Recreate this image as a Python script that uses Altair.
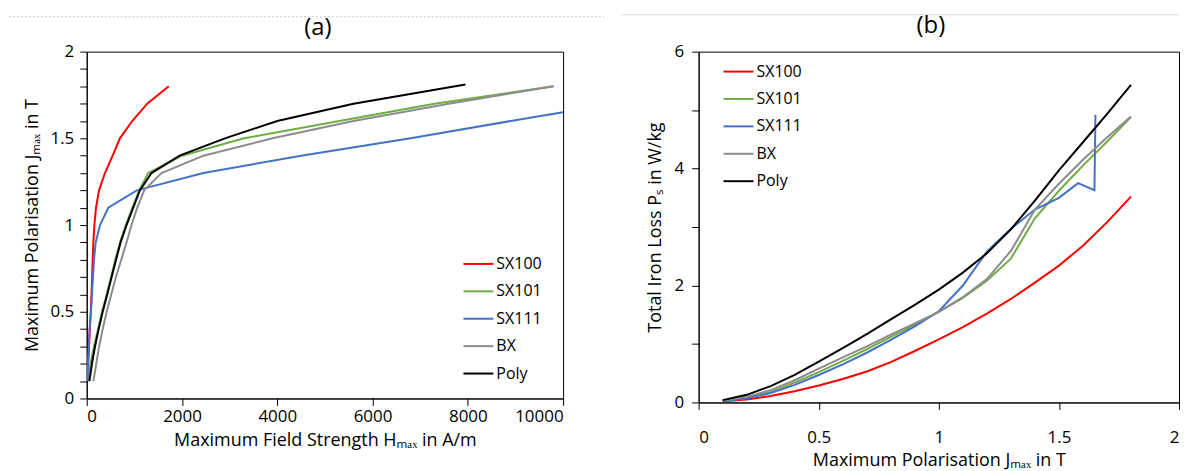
import altair as alt
import pandas as pd

FONT = "Open Sans"
series = ["SX100", "SX101", "SX111", "BX", "Poly"]
colors = ["#FF0000", "#70AD47", "#4472C4", "#8C8C8C", "#000000"]

# ---------- Panel (a): Maximum field strength H (A/m) vs polarisation J (T)
a_sx100_H = [10, 30, 49, 65, 84, 100, 113, 125, 139, 160, 195, 258, 383, 544, 697, 955, 1270, 1722]
a_sx100_J = [0.1, 0.2, 0.3, 0.4, 0.5, 0.6, 0.7, 0.8, 0.9, 1.0, 1.1, 1.2, 1.3, 1.4, 1.5, 1.6, 1.7, 1.8]

a_sx101_H = [35, 80, 150, 240, 320, 420, 510, 600, 700, 820, 960, 1100, 1290, 2000, 3300, 5300, 7300, 9800]
a_sx101_J = [0.1, 0.2, 0.3, 0.4, 0.5, 0.6, 0.7, 0.8, 0.9, 1.0, 1.1, 1.2, 1.3, 1.4, 1.5, 1.6, 1.7, 1.8]

a_sx111_H = [15, 30, 45, 60, 90, 110, 130, 153, 188, 279, 453, 1050, 2450, 4500, 6800, 8900, 10000]
a_sx111_J = [0.1, 0.2, 0.3, 0.4, 0.5, 0.6, 0.7, 0.8, 0.9, 1.0, 1.1, 1.2, 1.3, 1.4, 1.5, 1.6, 1.65]

a_bx_H = [140, 200, 260, 335, 418, 515, 613, 725, 836, 940, 1060, 1206, 1568, 2450, 3900, 5600, 7600, 9800]
a_bx_J = [0.1, 0.2, 0.3, 0.4, 0.5, 0.6, 0.7, 0.8, 0.9, 1.0, 1.1, 1.2, 1.3, 1.4, 1.5, 1.6, 1.7, 1.8]

a_poly_H = [56, 110, 174, 250, 335, 430, 523, 615, 711, 836, 976, 1115, 1359, 1950, 2900, 4000, 5600, 7950]
a_poly_J = [0.1, 0.2, 0.3, 0.4, 0.5, 0.6, 0.7, 0.8, 0.9, 1.0, 1.1, 1.2, 1.3, 1.4, 1.5, 1.6, 1.7, 1.81]

# ---------- Panel (b): polarisation J (T) vs total iron loss P (W/kg)
b_J = [0.1, 0.2, 0.3, 0.4, 0.5, 0.6, 0.7, 0.8, 0.9, 1.0, 1.1, 1.2, 1.3, 1.4, 1.5, 1.6, 1.7, 1.8]
b_sx100_P = [0.02, 0.05, 0.11, 0.19, 0.29, 0.40, 0.53, 0.69, 0.88, 1.08, 1.29, 1.52, 1.77, 2.05, 2.34, 2.68, 3.08, 3.52]
b_sx101_P = [0.02, 0.08, 0.18, 0.34, 0.52, 0.71, 0.91, 1.12, 1.33, 1.55, 1.79, 2.08, 2.46, 3.15, 3.62, 4.05, 4.46, 4.88]
b_sx111_J = [0.1, 0.2, 0.3, 0.4, 0.5, 0.6, 0.7, 0.8, 0.9, 1.0, 1.1, 1.2, 1.3, 1.4, 1.5, 1.58, 1.648, 1.652]
b_sx111_P = [0.02, 0.07, 0.16, 0.30, 0.47, 0.65, 0.85, 1.07, 1.30, 1.56, 2.00, 2.58, 2.97, 3.30, 3.50, 3.75, 3.63, 4.92]
b_bx_P = [0.03, 0.10, 0.21, 0.38, 0.58, 0.77, 0.96, 1.16, 1.35, 1.55, 1.80, 2.11, 2.59, 3.30, 3.74, 4.15, 4.53, 4.89]
b_poly_P = [0.04, 0.13, 0.28, 0.47, 0.70, 0.93, 1.17, 1.42, 1.67, 1.93, 2.22, 2.55, 2.96, 3.45, 3.97, 4.45, 4.93, 5.43]

# axis tick values
a_x_ticks = [0, 2000, 4000, 6000, 8000, 10000]
a_y_ticks = [0, 0.1, 0.2, 0.3, 0.4, 0.5, 0.6, 0.7, 0.8, 0.9, 1.0, 1.1, 1.2, 1.3, 1.4, 1.5, 1.6, 1.7, 1.8, 1.9, 2.0]
b_x_ticks = [0, 0.5, 1, 1.5, 2]
b_y_ticks = [0, 1, 2, 3, 4, 5, 6]


def frame(name, xs, ys):
    return pd.DataFrame({"series": name, "x": xs, "y": ys, "idx": list(range(len(xs)))})


df_a = pd.concat([
    frame("SX100", a_sx100_H, a_sx100_J),
    frame("SX101", a_sx101_H, a_sx101_J),
    frame("SX111", a_sx111_H, a_sx111_J),
    frame("BX", a_bx_H, a_bx_J),
    frame("Poly", a_poly_H, a_poly_J),
], ignore_index=True)

df_b = pd.concat([
    frame("SX100", b_J, b_sx100_P),
    frame("SX101", b_J, b_sx101_P),
    frame("SX111", b_sx111_J, b_sx111_P),
    frame("BX", b_J, b_bx_P),
    frame("Poly", b_J, b_poly_P),
], ignore_index=True)

color_scale = alt.Scale(domain=series, range=colors)


def legend(x, y):
    return alt.Legend(
        orient="none", legendX=x, legendY=y, title=None,
        symbolType="stroke", symbolSize=900, symbolStrokeWidth=2,
        labelFont=FONT, labelFontSize=16, labelColor="#000000",
        rowPadding=3.5, padding=0, labelOffset=2,
    )


left_lines = alt.Chart(df_a).mark_line(strokeWidth=2, clip=True).encode(
    x=alt.X("x:Q", scale=alt.Scale(domain=[0, 10000], nice=False),
            axis=alt.Axis(values=a_x_ticks, format="d", title="Maximum Field Strength Hₘₐₓ in A/m",
                          labelPadding=3, titlePadding=7)),
    y=alt.Y("y:Q", scale=alt.Scale(domain=[0, 2], nice=False),
            axis=alt.Axis(values=a_y_ticks,
                          labelExpr="round(datum.value*10) % 5 == 0 ? format(datum.value, '~g') : ''",
                          title="Maximum Polarisation Jₘₐₓ in T", labelPadding=6, titlePadding=8)),
    color=alt.Color("series:N", scale=color_scale, legend=legend(377, 197)),
    order="idx:Q",
)

left_deco = alt.Chart(pd.DataFrame({"k": [0]})).mark_rule(
    color="#c8c8c8", strokeDash=[2, 2], strokeWidth=1
).encode(x=alt.value(-78), x2=alt.value(519), y=alt.value(-35))

left = alt.layer(left_deco, left_lines).properties(
    width=478, height=348,
    title=alt.TitleParams("(a)", font=FONT, fontSize=24, fontWeight="normal", color="#000000",
                          anchor="middle", frame="group", dx=-7, offset=-24),
)

right_lines = alt.Chart(df_b).mark_line(strokeWidth=2, clip=True).encode(
    x=alt.X("x:Q", scale=alt.Scale(domain=[0, 2], nice=False),
            axis=alt.Axis(values=b_x_ticks, format="~g", title="Maximum Polarisation Jₘₐₓ in T",
                          labelPadding=20, titlePadding=6)),
    y=alt.Y("y:Q", scale=alt.Scale(domain=[0, 6], nice=False),
            axis=alt.Axis(values=b_y_ticks,
                          labelExpr="datum.value % 2 == 0 ? format(datum.value, '~g') : ''",
                          title="Total Iron Loss Pₛ in W/kg", labelPadding=8, titlePadding=10)),
    color=alt.Color("series:N", scale=color_scale, legend=legend(24, 4)),
    order="idx:Q",
)

right_deco = alt.Chart(pd.DataFrame({"k": [0]})).mark_rule(
    color="#dcdcdc", strokeWidth=1
).encode(x=alt.value(-78), x2=alt.value(482), y=alt.value(-37))

right = alt.layer(right_deco, right_lines).properties(
    width=482, height=352,
    title=alt.TitleParams("(b)", font=FONT, fontSize=24, fontWeight="normal", color="#000000",
                          anchor="middle", frame="group", dx=-8, offset=-24),
)

chart = alt.hconcat(left, right, spacing=15).resolve_scale(color="independent").resolve_legend(
    color="independent"
).properties(
    padding={"left": 0, "top": 5, "right": 0, "bottom": 0}, background="#ffffff"
).configure_view(
    stroke="#000000", strokeWidth=1
).configure_axis(
    grid=False, domainColor="#000000", tickColor="#000000", tickSize=7,
    labelFont=FONT, labelFontSize=17, labelColor="#000000",
    titleFont=FONT, titleFontSize=18, titleFontWeight="normal", titleColor="#000000",
    labelOverlap=False,
)

chart.save("out.html", embed_options={"renderer": "svg", "actions": False})
